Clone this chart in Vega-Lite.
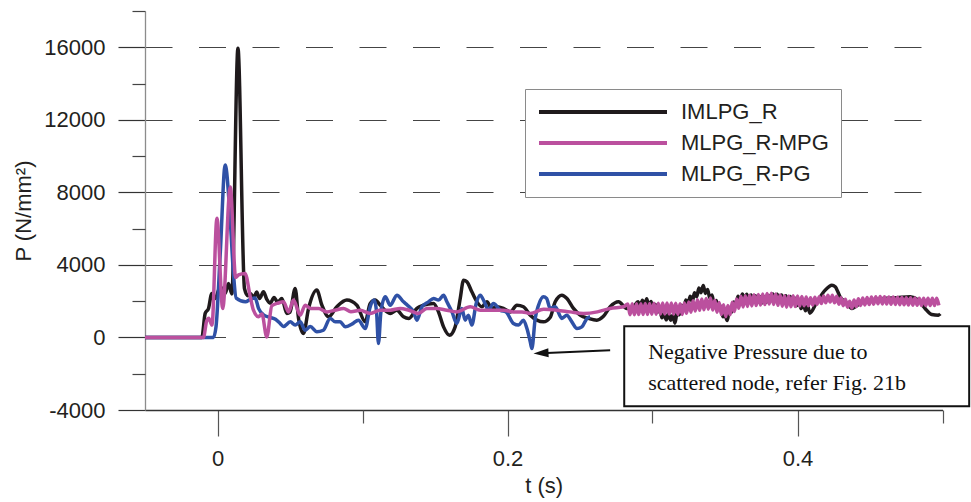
{
  "$schema": "https://vega.github.io/schema/vega-lite/v6.json",
  "width": 797.5,
  "height": 399,
  "autosize": {"type": "none"},
  "padding": {"left": 145, "top": 11, "right": 28.5, "bottom": 92},
  "background": "white",
  "config": {
    "view": {"stroke": null},
    "font": "Liberation Sans",
    "axis": {
      "labelFont": "Liberation Sans",
      "titleFont": "Liberation Sans",
      "labelFontSize": 22,
      "titleFontSize": 22,
      "titleFontWeight": "normal",
      "labelColor": "#231f20",
      "titleColor": "#231f20",
      "labelFlush": false,
      "labelOverlap": false
    },
    "legend": {
      "labelFont": "Liberation Sans",
      "labelFontSize": 22,
      "labelColor": "#231f20"
    }
  },
  "datasets": {
    "imlpg": [
      {"t": -0.05, "p": 0}, {"t": -0.0108, "p": 0}, {"t": -0.0085, "p": 1325}, {"t": -0.0062, "p": 1600},
      {"t": -0.0039, "p": 2430}, {"t": -0.0016, "p": 2150}, {"t": 0.0019, "p": 2800}, {"t": 0.0053, "p": 2430},
      {"t": 0.0076, "p": 2980}, {"t": 0.0099, "p": 2400}, {"t": 0.0141, "p": 15950}, {"t": 0.0186, "p": 2700},
      {"t": 0.021, "p": 2300}, {"t": 0.0226, "p": 2430}, {"t": 0.025, "p": 2200}, {"t": 0.027, "p": 2500},
      {"t": 0.029, "p": 2150}, {"t": 0.0317, "p": 2515}, {"t": 0.034, "p": 2100}, {"t": 0.0363, "p": 1890},
      {"t": 0.039, "p": 2200}, {"t": 0.0415, "p": 1950}, {"t": 0.0444, "p": 2150}, {"t": 0.0478, "p": 1325},
      {"t": 0.05, "p": 1400}, {"t": 0.0536, "p": 2700}, {"t": 0.0559, "p": 1050}, {"t": 0.0593, "p": 220},
      {"t": 0.0628, "p": 1600}, {"t": 0.0685, "p": 2610}, {"t": 0.072, "p": 1780}, {"t": 0.0766, "p": 1140},
      {"t": 0.0823, "p": 1690}, {"t": 0.0892, "p": 2060}, {"t": 0.0961, "p": 1780}, {"t": 0.1019, "p": 860},
      {"t": 0.1053, "p": 1875}, {"t": 0.1088, "p": 2060}, {"t": 0.112, "p": 1800}, {"t": 0.1168, "p": 1410},
      {"t": 0.1191, "p": 1325}, {"t": 0.1237, "p": 1500}, {"t": 0.1283, "p": 1140}, {"t": 0.132, "p": 1050},
      {"t": 0.1375, "p": 1600}, {"t": 0.1421, "p": 1780}, {"t": 0.149, "p": 1875}, {"t": 0.1524, "p": 1410},
      {"t": 0.1559, "p": 585}, {"t": 0.16, "p": 127}, {"t": 0.1639, "p": 585}, {"t": 0.1674, "p": 2150},
      {"t": 0.1697, "p": 3160}, {"t": 0.172, "p": 3070}, {"t": 0.1754, "p": 2515}, {"t": 0.1789, "p": 1965},
      {"t": 0.1823, "p": 1690}, {"t": 0.1858, "p": 1965}, {"t": 0.1892, "p": 1600}, {"t": 0.1927, "p": 1690},
      {"t": 0.1972, "p": 1600}, {"t": 0.2019, "p": 1410}, {"t": 0.2065, "p": 1780}, {"t": 0.211, "p": 1690},
      {"t": 0.2157, "p": 1230}, {"t": 0.2203, "p": 955}, {"t": 0.2248, "p": 860}, {"t": 0.2294, "p": 1100},
      {"t": 0.2329, "p": 1965}, {"t": 0.2375, "p": 2330}, {"t": 0.241, "p": 2150}, {"t": 0.2455, "p": 1600},
      {"t": 0.2501, "p": 1230}, {"t": 0.2559, "p": 1050}, {"t": 0.2616, "p": 955}, {"t": 0.266, "p": 1150},
      {"t": 0.2708, "p": 1690}, {"t": 0.2766, "p": 1965}, {"t": 0.2823, "p": 1600}, {"t": 0.287, "p": 1700},
      {"t": 0.29, "p": 1970}, {"t": 0.2915, "p": 1670}, {"t": 0.293, "p": 2050}, {"t": 0.2945, "p": 1750},
      {"t": 0.296, "p": 2130}, {"t": 0.2975, "p": 1720}, {"t": 0.299, "p": 1980}, {"t": 0.3005, "p": 1560},
      {"t": 0.302, "p": 1820}, {"t": 0.3035, "p": 1390}, {"t": 0.305, "p": 1570}, {"t": 0.3065, "p": 1080},
      {"t": 0.308, "p": 1310}, {"t": 0.3095, "p": 970}, {"t": 0.311, "p": 1310}, {"t": 0.3125, "p": 950},
      {"t": 0.314, "p": 1220}, {"t": 0.3155, "p": 790}, {"t": 0.317, "p": 1370}, {"t": 0.3185, "p": 1250},
      {"t": 0.32, "p": 1770}, {"t": 0.3215, "p": 1580}, {"t": 0.323, "p": 2070}, {"t": 0.3245, "p": 1840},
      {"t": 0.326, "p": 2270}, {"t": 0.3275, "p": 2020}, {"t": 0.329, "p": 2460}, {"t": 0.3305, "p": 2250},
      {"t": 0.332, "p": 2720}, {"t": 0.3335, "p": 2470}, {"t": 0.335, "p": 2870}, {"t": 0.3365, "p": 2430},
      {"t": 0.338, "p": 2650}, {"t": 0.3395, "p": 2170}, {"t": 0.341, "p": 2340}, {"t": 0.3425, "p": 1850},
      {"t": 0.344, "p": 2040}, {"t": 0.3455, "p": 1550}, {"t": 0.347, "p": 1740}, {"t": 0.3485, "p": 1140},
      {"t": 0.35, "p": 1230}, {"t": 0.3515, "p": 930}, {"t": 0.353, "p": 1430}, {"t": 0.3545, "p": 1390},
      {"t": 0.356, "p": 1950}, {"t": 0.3575, "p": 1830}, {"t": 0.359, "p": 2270}, {"t": 0.3605, "p": 1990},
      {"t": 0.362, "p": 2390}, {"t": 0.3635, "p": 2060}, {"t": 0.365, "p": 2380}, {"t": 0.3665, "p": 2020},
      {"t": 0.368, "p": 2340}, {"t": 0.3695, "p": 1980}, {"t": 0.371, "p": 2300}, {"t": 0.3725, "p": 1940},
      {"t": 0.374, "p": 2260}, {"t": 0.3755, "p": 1900}, {"t": 0.377, "p": 2240}, {"t": 0.3785, "p": 1940},
      {"t": 0.38, "p": 2320}, {"t": 0.3815, "p": 2020}, {"t": 0.383, "p": 2400}, {"t": 0.3845, "p": 2060},
      {"t": 0.386, "p": 2380}, {"t": 0.3875, "p": 2020}, {"t": 0.389, "p": 2340}, {"t": 0.3905, "p": 1980},
      {"t": 0.392, "p": 2300}, {"t": 0.3935, "p": 1940}, {"t": 0.395, "p": 2260}, {"t": 0.3965, "p": 1900},
      {"t": 0.398, "p": 2170}, {"t": 0.3995, "p": 1750}, {"t": 0.401, "p": 2010}, {"t": 0.4025, "p": 1590},
      {"t": 0.404, "p": 1870}, {"t": 0.4055, "p": 1470}, {"t": 0.407, "p": 1740}, {"t": 0.4085, "p": 1340},
      {"t": 0.4134, "p": 1965}, {"t": 0.4191, "p": 2610}, {"t": 0.4237, "p": 2885}, {"t": 0.426, "p": 2800},
      {"t": 0.4294, "p": 2240}, {"t": 0.4341, "p": 1875}, {"t": 0.4375, "p": 1600}, {"t": 0.4432, "p": 1875},
      {"t": 0.4501, "p": 2060}, {"t": 0.4593, "p": 2150}, {"t": 0.4685, "p": 2190}, {"t": 0.4777, "p": 2240},
      {"t": 0.4834, "p": 2060}, {"t": 0.488, "p": 1600}, {"t": 0.4926, "p": 1270}, {"t": 0.4972, "p": 1230},
      {"t": 0.4985, "p": 1300}
    ],
    "mpg": [
      {"t": -0.05, "p": 0}, {"t": -0.0097, "p": 0}, {"t": -0.0075, "p": 900}, {"t": -0.006, "p": 1060},
      {"t": -0.0038, "p": 680}, {"t": -0.0004, "p": 6570}, {"t": 0.0036, "p": 1600}, {"t": 0.0088, "p": 8300},
      {"t": 0.0125, "p": 3300}, {"t": 0.0145, "p": 3450}, {"t": 0.019, "p": 3530}, {"t": 0.0226, "p": 2240},
      {"t": 0.0248, "p": 1505}, {"t": 0.0283, "p": 1140}, {"t": 0.0306, "p": 1300}, {"t": 0.034, "p": 30},
      {"t": 0.0375, "p": 1750}, {"t": 0.042, "p": 1900}, {"t": 0.0455, "p": 1965}, {"t": 0.049, "p": 1410},
      {"t": 0.0524, "p": 2060}, {"t": 0.057, "p": 1230}, {"t": 0.0605, "p": 1780}, {"t": 0.064, "p": 1600},
      {"t": 0.0697, "p": 1600}, {"t": 0.0754, "p": 1410}, {"t": 0.081, "p": 1500}, {"t": 0.0869, "p": 1600},
      {"t": 0.092, "p": 1420}, {"t": 0.0984, "p": 1500}, {"t": 0.1053, "p": 1325}, {"t": 0.112, "p": 1500},
      {"t": 0.1191, "p": 1505}, {"t": 0.126, "p": 1600}, {"t": 0.132, "p": 1500}, {"t": 0.1386, "p": 1325},
      {"t": 0.1444, "p": 1600}, {"t": 0.151, "p": 1600}, {"t": 0.1582, "p": 1500}, {"t": 0.1651, "p": 1410},
      {"t": 0.1743, "p": 1690}, {"t": 0.1812, "p": 1505}, {"t": 0.19, "p": 1505}, {"t": 0.1972, "p": 1505},
      {"t": 0.2041, "p": 1410}, {"t": 0.21, "p": 1410}, {"t": 0.2157, "p": 1325}, {"t": 0.2249, "p": 1550},
      {"t": 0.2341, "p": 1505}, {"t": 0.2432, "p": 1410}, {"t": 0.2524, "p": 1325}, {"t": 0.262, "p": 1410},
      {"t": 0.2708, "p": 1600}, {"t": 0.28, "p": 1690},
      {"t": 0.283, "p": 1850}, {"t": 0.2845, "p": 1250}, {"t": 0.286, "p": 1855}, {"t": 0.2875, "p": 1255},
      {"t": 0.289, "p": 1860}, {"t": 0.2905, "p": 1260}, {"t": 0.292, "p": 1865}, {"t": 0.2935, "p": 1265},
      {"t": 0.295, "p": 1870}, {"t": 0.2965, "p": 1270}, {"t": 0.298, "p": 1875}, {"t": 0.2995, "p": 1275},
      {"t": 0.301, "p": 1880}, {"t": 0.3025, "p": 1285}, {"t": 0.304, "p": 1890}, {"t": 0.3055, "p": 1290},
      {"t": 0.307, "p": 1895}, {"t": 0.3085, "p": 1295}, {"t": 0.31, "p": 1900}, {"t": 0.3115, "p": 1300},
      {"t": 0.313, "p": 1895}, {"t": 0.3145, "p": 1290}, {"t": 0.316, "p": 1880}, {"t": 0.3175, "p": 1275},
      {"t": 0.319, "p": 1865}, {"t": 0.3205, "p": 1270}, {"t": 0.322, "p": 1900}, {"t": 0.3235, "p": 1330},
      {"t": 0.325, "p": 1960}, {"t": 0.3265, "p": 1390}, {"t": 0.328, "p": 2020}, {"t": 0.3295, "p": 1455},
      {"t": 0.331, "p": 2085}, {"t": 0.3325, "p": 1500}, {"t": 0.334, "p": 2115}, {"t": 0.3355, "p": 1530},
      {"t": 0.337, "p": 2145}, {"t": 0.3385, "p": 1560}, {"t": 0.34, "p": 2170}, {"t": 0.3415, "p": 1510},
      {"t": 0.343, "p": 2050}, {"t": 0.3445, "p": 1390}, {"t": 0.346, "p": 1930}, {"t": 0.3475, "p": 1270},
      {"t": 0.349, "p": 1810}, {"t": 0.3505, "p": 1145}, {"t": 0.352, "p": 1760}, {"t": 0.3535, "p": 1250},
      {"t": 0.355, "p": 1940}, {"t": 0.3565, "p": 1430}, {"t": 0.358, "p": 2120}, {"t": 0.3595, "p": 1610},
      {"t": 0.361, "p": 2270}, {"t": 0.3625, "p": 1685}, {"t": 0.364, "p": 2300}, {"t": 0.3655, "p": 1710},
      {"t": 0.367, "p": 2325}, {"t": 0.3685, "p": 1740}, {"t": 0.37, "p": 2350}, {"t": 0.3715, "p": 1765},
      {"t": 0.373, "p": 2375}, {"t": 0.3745, "p": 1790}, {"t": 0.376, "p": 2400}, {"t": 0.3775, "p": 1815},
      {"t": 0.379, "p": 2430}, {"t": 0.3805, "p": 1845}, {"t": 0.382, "p": 2440}, {"t": 0.3835, "p": 1815},
      {"t": 0.385, "p": 2390}, {"t": 0.3865, "p": 1770}, {"t": 0.388, "p": 2345}, {"t": 0.3895, "p": 1720},
      {"t": 0.391, "p": 2295}, {"t": 0.3925, "p": 1670}, {"t": 0.394, "p": 2280}, {"t": 0.3955, "p": 1690},
      {"t": 0.397, "p": 2300}, {"t": 0.3985, "p": 1700}, {"t": 0.4, "p": 2280}, {"t": 0.4015, "p": 1730},
      {"t": 0.403, "p": 2260}, {"t": 0.4045, "p": 1750}, {"t": 0.406, "p": 2230}, {"t": 0.4075, "p": 1750},
      {"t": 0.409, "p": 2190}, {"t": 0.4105, "p": 1780}, {"t": 0.412, "p": 2210}, {"t": 0.4135, "p": 1830},
      {"t": 0.415, "p": 2250}, {"t": 0.4165, "p": 1870}, {"t": 0.418, "p": 2290}, {"t": 0.4195, "p": 1910},
      {"t": 0.421, "p": 2330}, {"t": 0.4225, "p": 1950}, {"t": 0.424, "p": 2330}, {"t": 0.4255, "p": 1910},
      {"t": 0.427, "p": 2270}, {"t": 0.4285, "p": 1830}, {"t": 0.43, "p": 2190}, {"t": 0.4315, "p": 1750},
      {"t": 0.433, "p": 2110}, {"t": 0.4345, "p": 1670}, {"t": 0.436, "p": 1990}, {"t": 0.4375, "p": 1620},
      {"t": 0.439, "p": 2060}, {"t": 0.4405, "p": 1700}, {"t": 0.442, "p": 2140}, {"t": 0.4435, "p": 1765},
      {"t": 0.445, "p": 2180}, {"t": 0.4465, "p": 1790}, {"t": 0.448, "p": 2200}, {"t": 0.4495, "p": 1815},
      {"t": 0.451, "p": 2225}, {"t": 0.4525, "p": 1835}, {"t": 0.454, "p": 2250}, {"t": 0.4555, "p": 1860},
      {"t": 0.457, "p": 2255}, {"t": 0.4585, "p": 1850}, {"t": 0.46, "p": 2245}, {"t": 0.4615, "p": 1840},
      {"t": 0.463, "p": 2235}, {"t": 0.4645, "p": 1830}, {"t": 0.466, "p": 2225}, {"t": 0.4675, "p": 1820},
      {"t": 0.469, "p": 2215}, {"t": 0.4705, "p": 1810}, {"t": 0.472, "p": 2205}, {"t": 0.4735, "p": 1800},
      {"t": 0.475, "p": 2195}, {"t": 0.4765, "p": 1790}, {"t": 0.478, "p": 2185}, {"t": 0.4795, "p": 1780},
      {"t": 0.481, "p": 2175}, {"t": 0.4825, "p": 1770}, {"t": 0.484, "p": 2165}, {"t": 0.4855, "p": 1765},
      {"t": 0.487, "p": 2165}, {"t": 0.4885, "p": 1765}, {"t": 0.49, "p": 2165}, {"t": 0.4915, "p": 1765},
      {"t": 0.493, "p": 2165}, {"t": 0.4945, "p": 1765}, {"t": 0.496, "p": 2165}, {"t": 0.4975, "p": 1765}
    ],
    "pg": [
      {"t": -0.05, "p": 0}, {"t": -0.0028, "p": 0}, {"t": -0.001, "p": 600}, {"t": 0.0019, "p": 4630},
      {"t": 0.0053, "p": 9505}, {"t": 0.0088, "p": 6470}, {"t": 0.011, "p": 3530}, {"t": 0.0129, "p": 2170},
      {"t": 0.0193, "p": 1965}, {"t": 0.0226, "p": 2100}, {"t": 0.026, "p": 2170}, {"t": 0.0283, "p": 1600},
      {"t": 0.0317, "p": 1250}, {"t": 0.0363, "p": 1100}, {"t": 0.04, "p": 1000}, {"t": 0.0432, "p": 770},
      {"t": 0.0455, "p": 600}, {"t": 0.0502, "p": 860}, {"t": 0.0536, "p": 680}, {"t": 0.057, "p": 860},
      {"t": 0.0605, "p": 400}, {"t": 0.064, "p": 600}, {"t": 0.0685, "p": 310}, {"t": 0.073, "p": 400},
      {"t": 0.0777, "p": 1050}, {"t": 0.0812, "p": 860}, {"t": 0.0845, "p": 860}, {"t": 0.0881, "p": 585},
      {"t": 0.093, "p": 750}, {"t": 0.0972, "p": 955}, {"t": 0.1019, "p": 495}, {"t": 0.1053, "p": 1690},
      {"t": 0.1081, "p": 2060}, {"t": 0.1097, "p": 1400}, {"t": 0.111, "p": -330}, {"t": 0.1127, "p": 1410},
      {"t": 0.1157, "p": 2240}, {"t": 0.1191, "p": 1780}, {"t": 0.1237, "p": 2330}, {"t": 0.1283, "p": 1965},
      {"t": 0.131, "p": 1780}, {"t": 0.1352, "p": 1410}, {"t": 0.1375, "p": 955}, {"t": 0.141, "p": 1690},
      {"t": 0.1455, "p": 1965}, {"t": 0.149, "p": 2150}, {"t": 0.1524, "p": 2060}, {"t": 0.1559, "p": 2330},
      {"t": 0.1582, "p": 1965}, {"t": 0.1617, "p": 1410}, {"t": 0.1651, "p": 770}, {"t": 0.1685, "p": 1600},
      {"t": 0.1708, "p": 955}, {"t": 0.173, "p": 1230}, {"t": 0.1754, "p": 680}, {"t": 0.1784, "p": 1875},
      {"t": 0.1812, "p": 2330}, {"t": 0.184, "p": 1965}, {"t": 0.1869, "p": 1505}, {"t": 0.1903, "p": 1875},
      {"t": 0.195, "p": 1505}, {"t": 0.199, "p": 1410}, {"t": 0.2041, "p": 770}, {"t": 0.2076, "p": 680},
      {"t": 0.211, "p": 955}, {"t": 0.2134, "p": 495}, {"t": 0.2157, "p": -240}, {"t": 0.2168, "p": -610},
      {"t": 0.2191, "p": 1050}, {"t": 0.2214, "p": 1780}, {"t": 0.2248, "p": 2240}, {"t": 0.227, "p": 2150},
      {"t": 0.2294, "p": 1600}, {"t": 0.2329, "p": 1690}, {"t": 0.2375, "p": 1050}, {"t": 0.2409, "p": 1230},
      {"t": 0.2444, "p": 860}, {"t": 0.2479, "p": 495}, {"t": 0.2513, "p": 585}, {"t": 0.2548, "p": 1050},
      {"t": 0.257, "p": 1140}
    ],
    "notebox": [{"t": 0.2805, "t2": 0.5184, "p": 623, "p2": -3790}],
    "notetext": [
      {"t": 0.297, "p": -811, "label": "Negative Pressure due to"},
      {"t": 0.297, "p": -2521, "label": "scattered node, refer Fig. 21b"}
    ],
    "arrowline": [{"t": 0.2708, "p": -700, "t2": 0.2231, "p2": -866}],
    "arrowhead": [{"t": 0.2231, "p": -866}]
  },
  "resolve": {"axis": {"x": "independent", "y": "independent"}},
  "layer": [
    {
      "data": {"name": "imlpg"},
      "mark": {"type": "line", "strokeWidth": 3.5, "interpolate": "monotone", "clip": false},
      "encoding": {
        "x": {
          "field": "t", "type": "quantitative",
          "scale": {"domain": [-0.05, 0.5], "nice": false, "zero": false},
          "axis": {
            "orient": "bottom",
            "values": [0, 0.2, 0.4],
            "labelExpr": "'' + datum.value",
            "tickSize": 26, "tickColor": "#555555", "tickWidth": 1.2,
            "domainColor": "#333333", "domainWidth": 1.3,
            "labelPadding": 12,
            "grid": false,
            "title": "t (s)",
            "titlePadding": 6
          }
        },
        "y": {
          "field": "p", "type": "quantitative",
          "scale": {"domain": [-4000, 18000], "nice": false, "zero": false},
          "axis": {
            "orient": "left",
            "values": [-4000, 0, 4000, 8000, 12000, 16000],
            "labelExpr": "'' + datum.value",
            "tickSize": 27, "tickColor": "#333333", "tickWidth": 1.2,
            "domainColor": "#8c8c8c", "domainWidth": 1.3,
            "labelPadding": 13,
            "grid": true, "gridColor": "#444444", "gridWidth": 1.2, "gridDash": [27, 26.5],
            "title": "P (N/mm²)",
            "titlePadding": 8
          }
        },
        "color": {
          "datum": "IMLPG_R",
          "scale": {
            "domain": ["IMLPG_R", "MLPG_R-MPG", "MLPG_R-PG"],
            "range": ["#1f1a1c", "#bb509e", "#2f51a6"]
          },
          "legend": {
            "orient": "none",
            "legendX": 380,
            "legendY": 78,
            "title": null,
            "symbolType": "stroke",
            "symbolSize": 16384,
            "symbolStrokeWidth": 4,
            "clipHeight": 22,
            "rowPadding": 9,
            "labelOffset": 12,
            "padding": 12,
            "strokeColor": "#8a8a8a",
            "fillColor": "white"
          }
        }
      }
    },
    {
      "data": {"name": "pg"},
      "mark": {"type": "line", "strokeWidth": 3.5, "interpolate": "monotone", "clip": false},
      "encoding": {
        "x": {
          "field": "t", "type": "quantitative",
          "axis": {
            "orient": "bottom",
            "values": [0.1, 0.3, 0.5],
            "labels": false, "domain": false, "grid": false,
            "tickSize": 13, "tickColor": "#555555", "tickWidth": 1.2,
            "title": null
          }
        },
        "y": {
          "field": "p", "type": "quantitative",
          "axis": {
            "orient": "left",
            "values": [-2000, 2000, 6000, 10000, 14000, 18000],
            "labels": false, "domain": false, "grid": false,
            "tickSize": 13, "tickColor": "#444444", "tickWidth": 1.2,
            "title": null
          }
        },
        "color": {"datum": "MLPG_R-PG"}
      }
    },
    {
      "data": {"name": "mpg"},
      "mark": {"type": "line", "strokeWidth": 3.5, "interpolate": "monotone", "clip": false},
      "encoding": {
        "x": {"field": "t", "type": "quantitative", "axis": null},
        "y": {"field": "p", "type": "quantitative", "axis": null},
        "color": {"datum": "MLPG_R-MPG"}
      }
    },
    {
      "data": {"name": "notebox"},
      "mark": {"type": "rect", "fill": "white", "stroke": "#111111", "strokeWidth": 2},
      "encoding": {
        "x": {"field": "t", "type": "quantitative", "axis": null},
        "x2": {"field": "t2"},
        "y": {"field": "p", "type": "quantitative", "axis": null},
        "y2": {"field": "p2"}
      }
    },
    {
      "data": {"name": "notetext"},
      "mark": {"type": "text", "align": "left", "baseline": "middle", "font": "Liberation Serif", "fontSize": 22, "color": "#111111"},
      "encoding": {
        "x": {"field": "t", "type": "quantitative", "axis": null},
        "y": {"field": "p", "type": "quantitative", "axis": null},
        "text": {"field": "label"}
      }
    },
    {
      "data": {"name": "arrowline"},
      "mark": {"type": "rule", "strokeWidth": 2, "color": "#111111"},
      "encoding": {
        "x": {"field": "t", "type": "quantitative", "axis": null},
        "x2": {"field": "t2"},
        "y": {"field": "p", "type": "quantitative", "axis": null},
        "y2": {"field": "p2"}
      }
    },
    {
      "data": {"name": "arrowhead"},
      "mark": {"type": "point", "shape": "M-1,0L1,-0.6L1,0.6Z", "size": 225, "filled": true, "opacity": 1, "color": "#111111", "angle": 357.5},
      "encoding": {
        "x": {"field": "t", "type": "quantitative", "axis": null},
        "y": {"field": "p", "type": "quantitative", "axis": null}
      }
    }
  ]
}
